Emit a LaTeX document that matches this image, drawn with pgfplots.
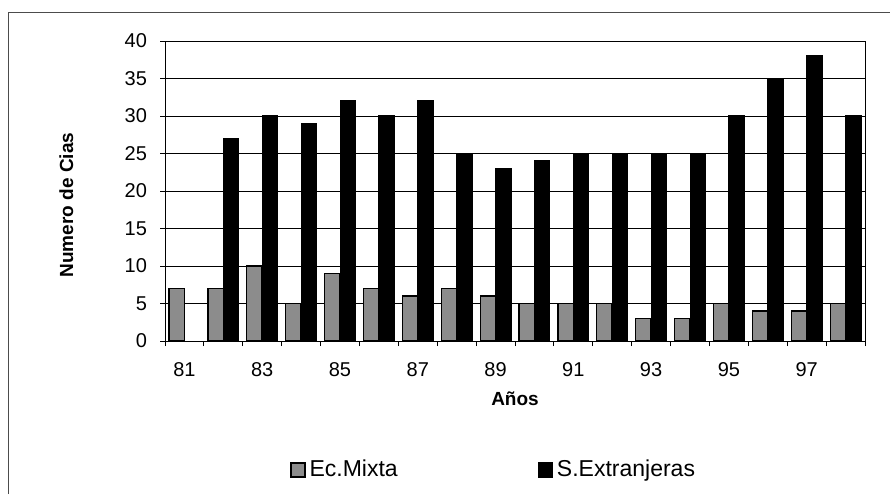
\documentclass[border=0pt]{standalone}
\usepackage{pgfplots}
\pgfplotsset{compat=1.18}
\usepackage{fontspec}
\setmainfont{Liberation Sans}
\begin{document}
\begin{tikzpicture}
\path[use as bounding box] (0,0) rectangle (445pt,247pt);
\draw[black!70, line width=0.4pt] (4pt,0pt) -- (4pt,241pt) -- (445pt,241pt);
\begin{axis}[
  at={(82.5pt,76.5pt)}, anchor=south west,
  width=350pt, height=150pt, scale only axis,
  ybar, bar width=0.39,
  xmin=-0.5, xmax=17.5, ymin=0, ymax=40,
  ytick={0,5,...,40},
  xtick={0,2,...,16},
  xticklabels={81,83,85,87,89,91,93,95,97},
  minor xtick={-0.5,0.5,...,17.5},
  major x tick style={draw=none},
  xtick pos=bottom, ytick pos=left,
  tick align=outside,
  tick style={black, line width=0.4pt},
  major tick length=2.5pt, minor tick length=2.5pt,
  ymajorgrids, grid style={black, line width=0.5pt},
  axis line style={black, line width=0.5pt},
  /pgf/number format/assume math mode=true,
  ticklabel style={font=\fontsize{10}{11}\selectfont},
  xticklabel style={yshift=-4.5pt},
  yticklabel style={xshift=-3pt},
  xlabel={\textbf{Años}},
  ylabel={\textbf{Numero de Cias}},
  label style={font=\fontsize{9.5}{10}\selectfont},
  xlabel style={at={(axis description cs:0.5,-0.193)}, anchor=center},
  ylabel style={at={(axis description cs:-0.141,0.453)}, anchor=center},
  legend columns=2,
  legend style={draw=none, fill=none, at={(0.471,-0.43)}, anchor=center,
    font=\fontsize{11.5}{13}\selectfont,
    /tikz/every even column/.append style={column sep=68pt}},
  legend image code/.code={\draw[#1, draw=black] (0pt,-3.5pt) rectangle (7pt,3.5pt);},
]
\addplot[fill=black!45, draw=black, line width=0.6pt, bar shift=-0.2] coordinates {
(0,7) (1,7) (2,10) (3,5) (4,9) (5,7) (6,6) (7,7) (8,6) (9,5) (10,5) (11,5) (12,3) (13,3) (14,5) (15,4) (16,4) (17,5)};
\addplot[fill=black, draw=black, line width=0.6pt, bar shift=0.2] coordinates {
(1,27) (2,30) (3,29) (4,32) (5,30) (6,32) (7,25) (8,23) (9,24) (10,25) (11,25) (12,25) (13,25) (14,30) (15,35) (16,38) (17,30)};
\legend{Ec.Mixta, S.Extranjeras}
\end{axis}
\end{tikzpicture}
\end{document}
